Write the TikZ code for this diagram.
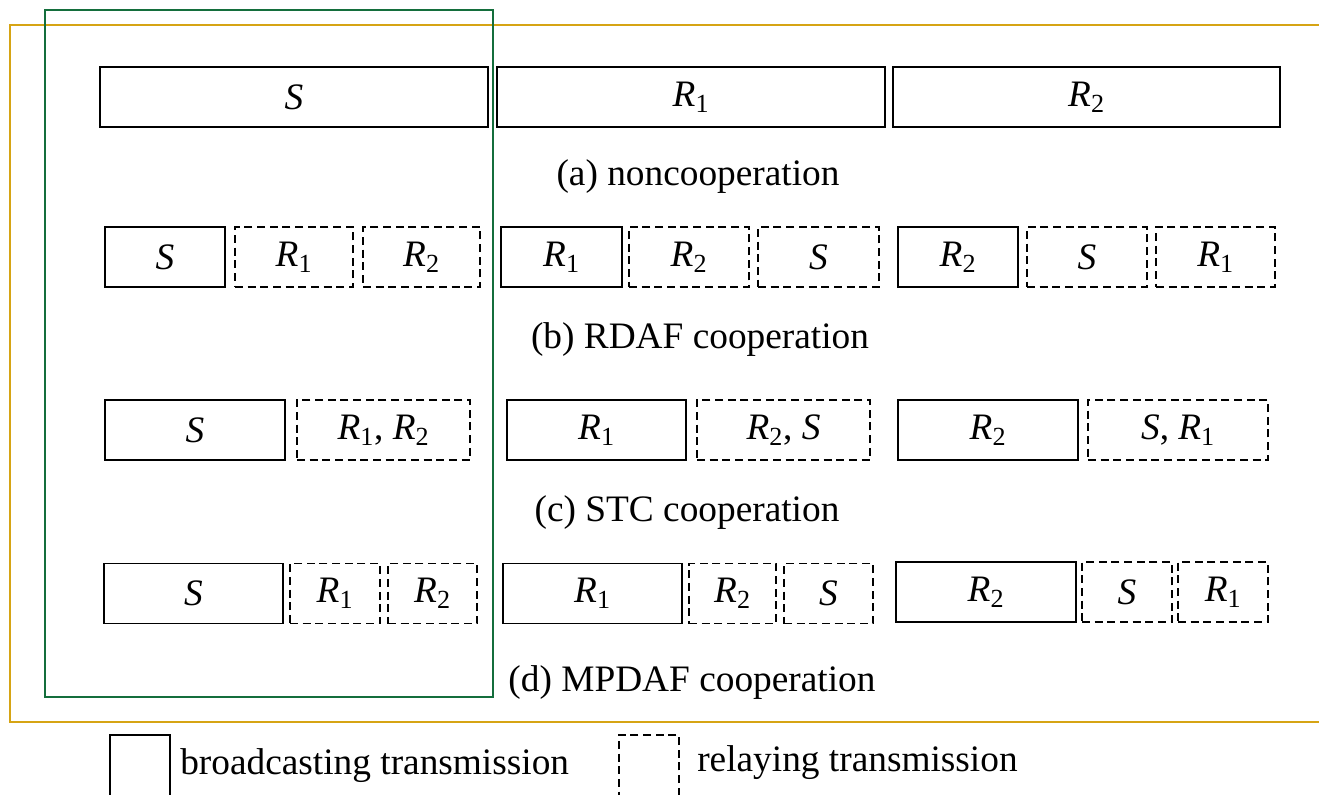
\documentclass[tikz,border=0pt]{standalone}
\usepackage{fontspec}
\setmainfont{Liberation Serif}
\newcommand{\Rx}[1]{\textit{R}\textsubscript{#1}}
\newcommand{\Sx}{\textit{S}}
\begin{document}
\begin{tikzpicture}[
  x = 0.75pt,
  y = -0.75pt,
  font = \fontsize{28}{34}\selectfont,
  bcastblock/.style = {rectangle, draw, line width = 1.4pt, inner sep = 0pt, minimum height = 45pt},
  relayblock/.style = {bcastblock, dash pattern = on 6pt off 3.5pt},
  wd/.style = {minimum width = #1*0.75pt},
  caption/.style = {inner sep = 0pt},
  legendbox/.style = {bcastblock, minimum width = 45pt, minimum height = 48pt}
]
  \useasboundingbox (0, 0) rectangle (1319, 794);

  % frames
  \draw[color = {rgb,255:red,214;green,164;blue,20}, line width = 1.1pt] (1319, 25) -- (10, 25) -- (10, 722) -- (1319, 722);
  \draw[color = {rgb,255:red,20;green,110;blue,60}, line width = 1.1pt] (45, 10) rectangle (493, 697);

  % (a)
  \node[bcastblock, wd = 388] (aS)  at (294, 97)    {\Sx};
  \node[bcastblock, wd = 388] (aR1) at (691, 97)    {\Rx{1}};
  \node[bcastblock, wd = 387] (aR2) at (1086.5, 97) {\Rx{2}};
  \node[caption] (capa) at (698, 177) {(a) noncooperation};

  % (b)
  \node[bcastblock, wd = 120] (bS)   at (165, 257)    {\Sx};
  \node[relayblock, wd = 118] (bSR1) at (294, 257)    {\Rx{1}};
  \node[relayblock, wd = 117] (bSR2) at (421.5, 257)  {\Rx{2}};
  \node[bcastblock, wd = 121] (bR1)  at (561.5, 257)  {\Rx{1}};
  \node[relayblock, wd = 120] (bR1R) at (689, 257)    {\Rx{2}};
  \node[relayblock, wd = 121] (bR1S) at (818.5, 257)  {\Sx};
  \node[bcastblock, wd = 120] (bR2)  at (958, 257)    {\Rx{2}};
  \node[relayblock, wd = 120] (bR2S) at (1087, 257)   {\Sx};
  \node[relayblock, wd = 119] (bR2R) at (1215.5, 257) {\Rx{1}};
  \node[caption] (capb) at (700, 340) {(b) RDAF cooperation};

  % (c)
  \node[bcastblock, wd = 180] (cS)  at (195, 430)   {\Sx};
  \node[relayblock, wd = 173] (cSR) at (383.5, 430) {\Rx{1}, \Rx{2}};
  \node[bcastblock, wd = 179] (cR1) at (596.5, 430) {\Rx{1}};
  \node[relayblock, wd = 173] (cR1R) at (783.5, 430) {\Rx{2}, \Sx};
  \node[bcastblock, wd = 180] (cR2) at (988, 430)   {\Rx{2}};
  \node[relayblock, wd = 180] (cR2R) at (1178, 430) {\Sx, \Rx{1}};
  \node[caption] (capc) at (687, 513) {(c) STC cooperation};

  % (d)
  \node[bcastblock, wd = 179] (dS)   at (193.5, 593.5) {\Sx};
  \node[relayblock, wd = 90]  (dSR1) at (335, 593.5)   {\Rx{1}};
  \node[relayblock, wd = 89]  (dSR2) at (432.5, 593.5) {\Rx{2}};
  \node[bcastblock, wd = 179] (dR1)  at (592.5, 593.5) {\Rx{1}};
  \node[relayblock, wd = 87]  (dR1R) at (732.5, 593.5) {\Rx{2}};
  \node[relayblock, wd = 89]  (dR1S) at (828.5, 593.5) {\Sx};
  \node[bcastblock, wd = 180] (dR2)  at (986, 592)     {\Rx{2}};
  \node[relayblock, wd = 90]  (dR2S) at (1127, 592)    {\Sx};
  \node[relayblock, wd = 90]  (dR2R) at (1223, 592)    {\Rx{1}};
  \node[caption] (capd) at (692, 683) {(d) MPDAF cooperation};

  % legend
  \node[legendbox] (lgb) at (140, 767) {};
  \node[caption, anchor = west] (lgbt) at (180, 766) {broadcasting transmission};
  \node[legendbox, dash pattern = on 6pt off 3.5pt] (lgr) at (649, 767) {};
  \node[caption, anchor = west] (lgrt) at (697, 763) {relaying transmission};
\end{tikzpicture}
\end{document}
